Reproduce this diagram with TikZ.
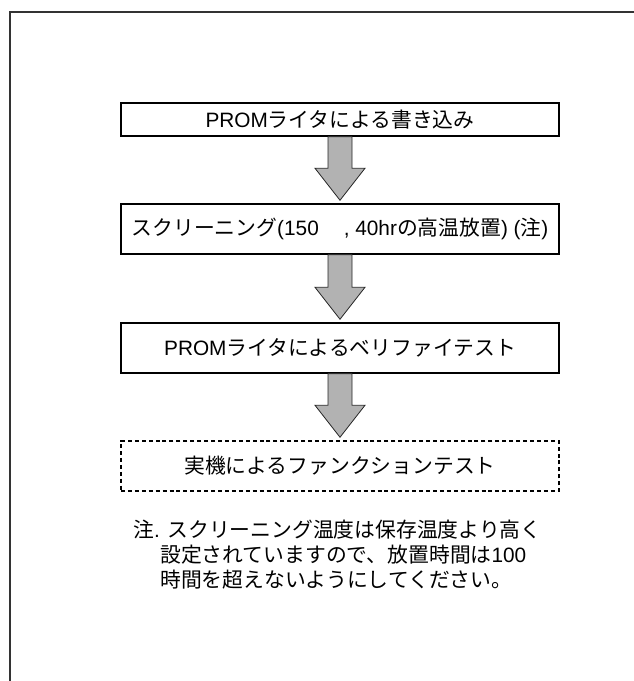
\documentclass[tikz,border=0pt]{standalone}
\usepackage{fontspec}
\setmainfont{Liberation Sans}
\newfontfamily\jp{Noto Sans CJK JP}
\usetikzlibrary{calc}

\begin{document}
\begin{tikzpicture}[x=0.75pt,y=-0.75pt,every node/.style={font=\fontsize{15.6}{20}\selectfont,inner sep=0pt},
 box/.style={draw,line width=1.1pt,minimum width=328.5pt,minimum height=37.5pt,align=center},
 dashbox/.style={box,dash pattern=on 3pt off 2.2pt},
 blockarr/.style={draw=black!85,line width=0.6pt,fill=black!30},
 note/.style={anchor=west}]
\useasboundingbox (0,0) rectangle (634,681);
% frame (only top and left edges show)
\draw[line width=2.2pt,draw=black!80] (10,681) -- (10,12) -- (634,12);
% steps
\node[box,minimum height=24.75pt] (b1) at (340,119.5) {PROM{\jp ライタによる書き込み}};
\node[box] (b2) at (340,229) {{\jp スクリーニング}(150\hspace{1.2em}, 40hr{\jp の高温放置}) ({\jp 注})};
\node[box] (b3) at (340,348) {PROM{\jp ライタによるベリファイテスト}};
\node[dashbox] (b4) at (340,466) {\jp 実機によるファンクションテスト};
% block arrows
\foreach \a/\b in {b1/b2,b2/b3,b3/b4}{
 \coordinate (tip) at ($(\b.north)+(0,-3)$);
 \draw[blockarr] ($(\a.south)+(-12,0)$) -- ($(tip)+(-12,-32)$) -- ($(tip)+(-25,-32)$) -- (tip)
  -- ($(tip)+(25,-32)$) -- ($(tip)+(12,-32)$) -- ($(\a.south)+(12,0)$) -- cycle;}
% note
\node[note] (n1) at (133,530) {{\jp 注}. {\jp スクリーニング温度は保存温度より高く}};
\node[note] (n2) at (160,555) {{\jp 設定されていますので、放置時間は}100};
\node[note] (n3) at (160,580) {\jp 時間を超えないようにしてください。};
\end{tikzpicture}
\end{document}
